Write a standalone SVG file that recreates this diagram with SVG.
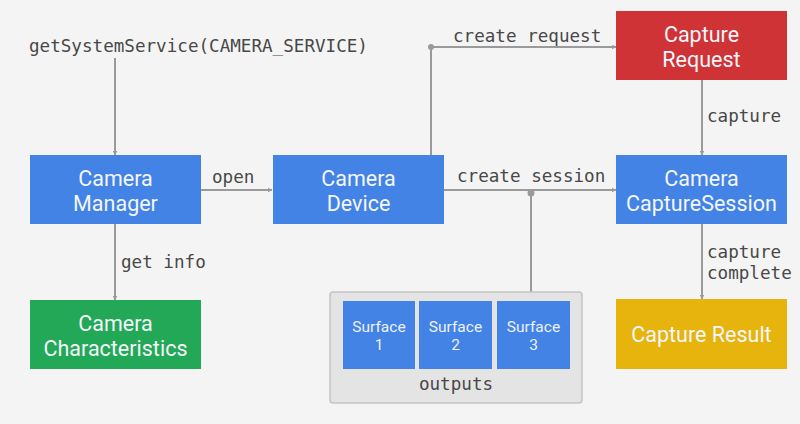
<svg xmlns="http://www.w3.org/2000/svg" width="800" height="424" viewBox="0 0 800 424">
<defs>
<marker id="arr" viewBox="0 0 10 10" refX="9" refY="5" markerWidth="5" markerHeight="5" orient="auto" markerUnits="userSpaceOnUse">
<path d="M0,0 L10,5 L0,10 z" fill="#9a9a9a"/>
</marker>
<style>
.bg{fill:#f4f4f4}
.node{stroke:none}
.blue{fill:#4383e6}
.red{fill:#d03335}
.green{fill:#22a856}
.yellow{fill:#e6b40c}
.lbl{font-family:Roboto,"Liberation Sans",sans-serif;font-size:21.5px;fill:#f4f6fb;text-anchor:middle}
.slbl{font-family:Roboto,"Liberation Sans",sans-serif;font-size:15.5px;fill:#eef2fb;text-anchor:middle}
.mono{font-family:"DejaVu Sans Mono","Liberation Mono",monospace;font-size:17.6px;fill:#484848}
.line{stroke:#9a9a9a;stroke-width:2;fill:none}
.arrow{marker-end:url(#arr)}
</style>
</defs>
<rect class="bg" x="0" y="0" width="800" height="424"/>

<g id="connectors">
<path class="line arrow" d="M115,58 V155"/>
<path class="line arrow" d="M201,190 H272"/>
<path class="line arrow" d="M431,155 V47 H616"/>
<circle cx="431" cy="47" r="3" fill="#9a9a9a"/>
<path class="line arrow" d="M443,190 H616"/>
<path class="line" d="M531,292 V193"/>
<circle cx="531" cy="193" r="3.5" fill="#9a9a9a"/>
<path class="line arrow" d="M702,80 V155"/>
<path class="line arrow" d="M115,224 V300"/>
<path class="line arrow" d="M702,224 V299"/>
<text class="mono" x="29" y="52">getSystemService(CAMERA_SERVICE)</text>
<text class="mono" x="212" y="183">open</text>
<text class="mono" x="453" y="42">create request</text>
<text class="mono" x="457" y="182">create session</text>
<text class="mono" x="707" y="122">capture</text>
<text class="mono" x="121" y="268">get info</text>
<text class="mono" x="707" y="258">capture</text>
<text class="mono" x="707" y="279">complete</text>
</g>

<g id="camera-manager">
<rect class="node blue" x="30" y="155" width="171" height="69"/>
<text class="lbl" x="115.5" y="186">Camera</text>
<text class="lbl" x="115.5" y="211">Manager</text>
</g>
<g id="camera-device">
<rect class="node blue" x="273" y="155" width="171" height="69"/>
<text class="lbl" x="358.5" y="186">Camera</text>
<text class="lbl" x="358.5" y="211">Device</text>
</g>
<g id="capture-request">
<rect class="node red" x="616" y="11" width="171" height="69"/>
<text class="lbl" x="701.5" y="42">Capture</text>
<text class="lbl" x="701.5" y="67">Request</text>
</g>
<g id="camera-capture-session">
<rect class="node blue" x="616" y="155" width="171" height="69"/>
<text class="lbl" x="701.5" y="186">Camera</text>
<text class="lbl" x="701.5" y="211">CaptureSession</text>
</g>
<g id="camera-characteristics">
<rect class="node green" x="30" y="300" width="171" height="69"/>
<text class="lbl" x="115.5" y="331">Camera</text>
<text class="lbl" x="115.5" y="356">Characteristics</text>
</g>
<g id="capture-result">
<rect class="node yellow" x="616" y="299" width="171" height="70"/>
<text class="lbl" x="701.5" y="342">Capture Result</text>
</g>
<g id="outputs">
<rect x="330" y="292" width="252" height="111" rx="3" fill="#e4e4e4" stroke="#c4c4c4" stroke-width="1.5"/>
<text class="mono" x="456" y="390" text-anchor="middle">outputs</text>
</g>
<g id="surface-1">
<rect class="node blue" x="343" y="301" width="72" height="68"/>
<text class="slbl" x="379" y="332">Surface</text>
<text class="slbl" x="379" y="350">1</text>
</g>
<g id="surface-2">
<rect class="node blue" x="419" y="301" width="73" height="68"/>
<text class="slbl" x="455.5" y="332">Surface</text>
<text class="slbl" x="455.5" y="350">2</text>
</g>
<g id="surface-3">
<rect class="node blue" x="497" y="301" width="73" height="68"/>
<text class="slbl" x="533.5" y="332">Surface</text>
<text class="slbl" x="533.5" y="350">3</text>
</g>
</svg>
